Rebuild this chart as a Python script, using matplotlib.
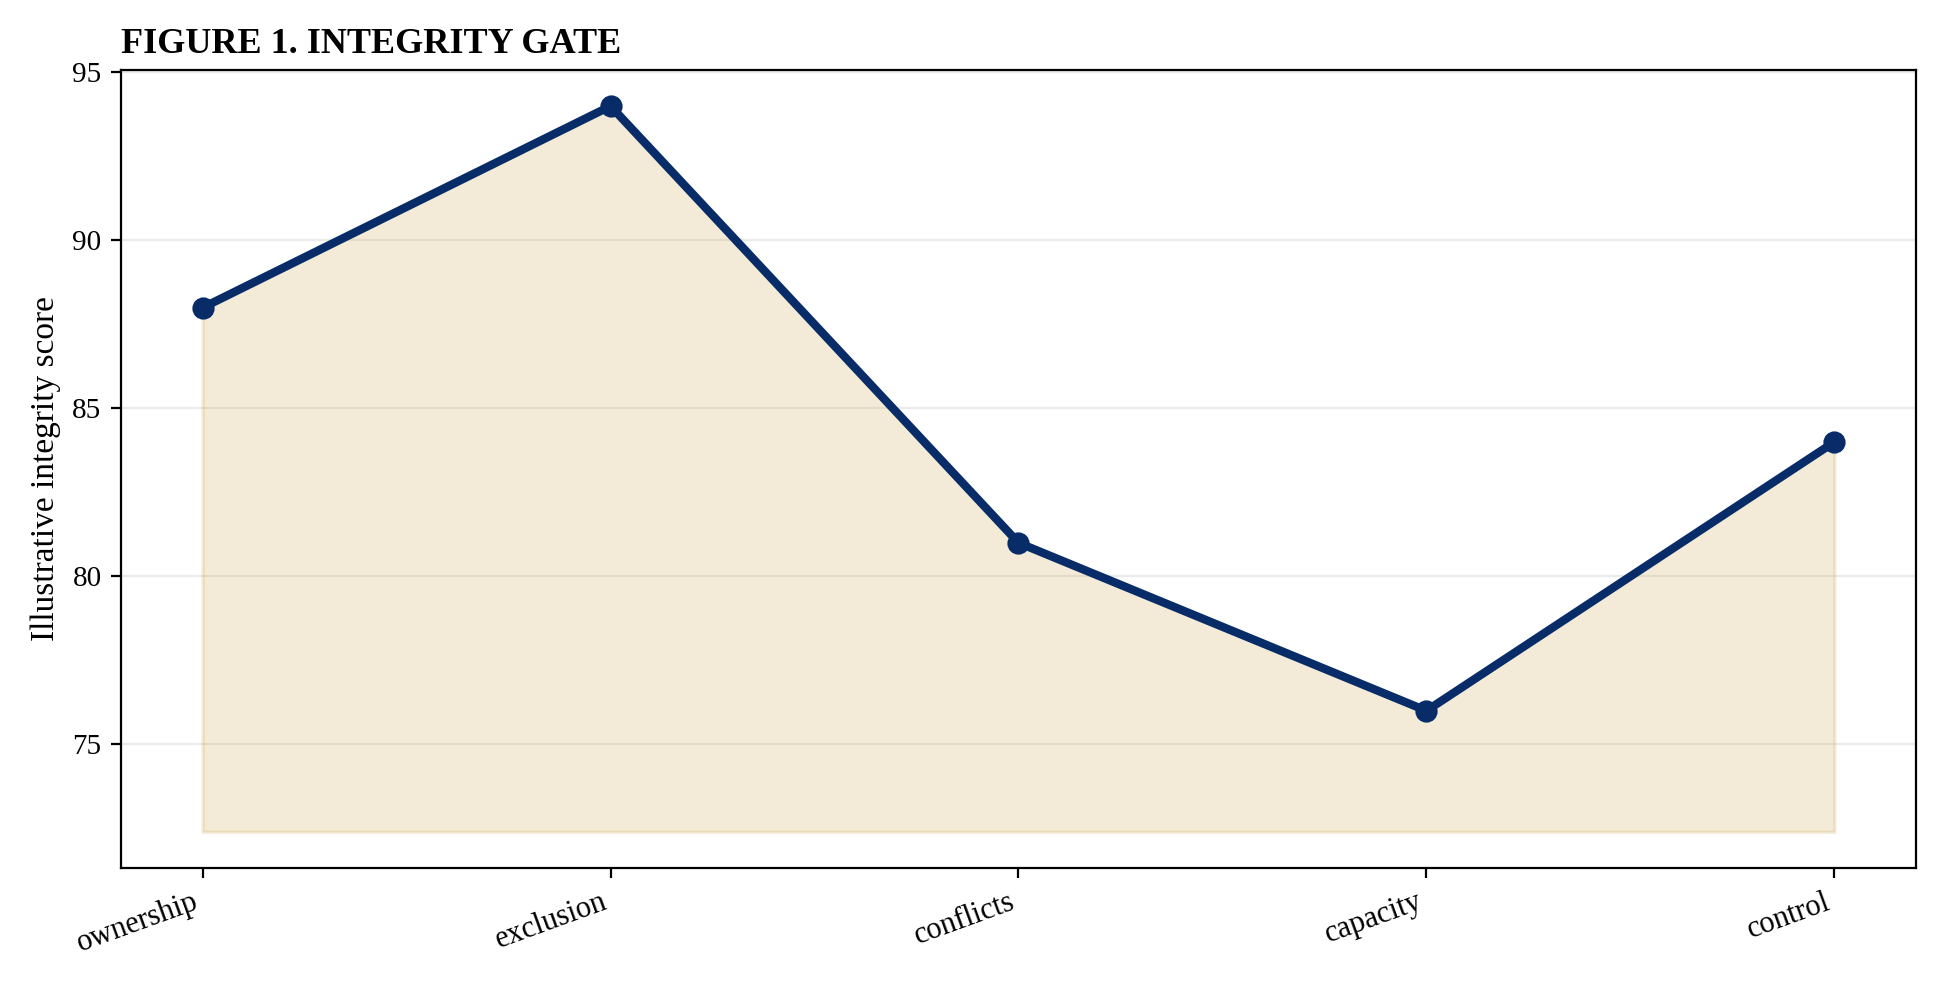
import matplotlib
matplotlib.use('Agg')
import matplotlib.pyplot as plt

# dados
etapas = ['ownership', 'exclusion', 'conflicts', 'capacity', 'control']
notas = [88, 94, 81, 76, 84]
base = 72.4

plt.rcParams['font.family'] = ['Liberation Serif', 'DejaVu Serif']

fig, ax = plt.subplots(figsize=(9.7, 4.915), dpi=200)
x = list(range(len(etapas)))
ax.fill_between(x, notas, base, color='#d6b571', alpha=0.28, linewidth=1.2)
ax.plot(x, notas, color='#072c68', linewidth=3.0, marker='o', markersize=7, zorder=3)

ax.set_xticks(x)
ax.set_xticklabels(etapas, rotation=20, ha='right', fontsize=11)
ax.tick_params(axis='y', labelsize=10.5)
ax.set_yticks([75, 80, 85, 90, 95])
ax.set_ylabel('Illustrative integrity score', fontsize=12)
ax.set_title('FIGURE 1. INTEGRITY GATE', loc='left', fontweight='bold', fontsize=13)
ax.grid(axis='y', color='#dddddd', alpha=0.6, linewidth=0.8)
ax.set_axisbelow(True)

fig.subplots_adjust(left=0.0624, right=0.9876, top=0.929, bottom=0.117)
fig.savefig('out.png', dpi=200)
